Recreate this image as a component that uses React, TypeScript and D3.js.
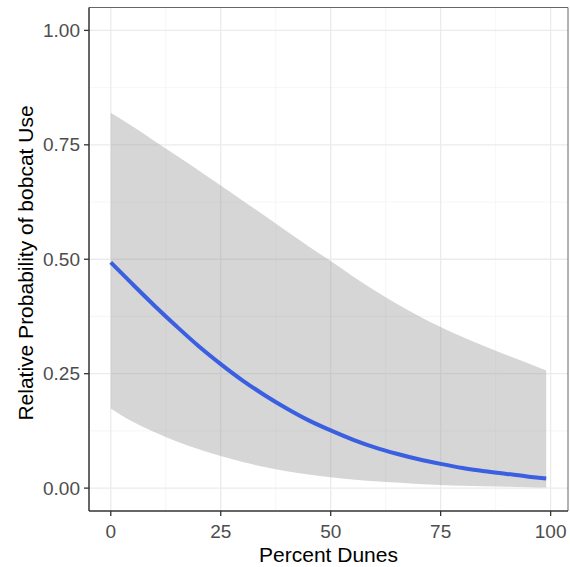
import React from "react";
import * as d3 from "d3";

const xValues = [0, 5, 10, 15, 20, 25, 30, 35, 40, 45, 50, 55, 60, 65, 70, 75, 80, 85, 90, 95, 99];
const fitValues = [0.493, 0.445, 0.398, 0.353, 0.31, 0.271, 0.235, 0.203, 0.174, 0.148, 0.126, 0.106, 0.089, 0.075, 0.063, 0.053, 0.044, 0.037, 0.031, 0.025, 0.021];
const lowerValues = [0.174, 0.145, 0.122, 0.102, 0.085, 0.07, 0.057, 0.046, 0.037, 0.03, 0.024, 0.019, 0.015, 0.012, 0.009, 0.007, 0.005, 0.004, 0.003, 0.002, 0.0015];
const upperValues = [0.82, 0.79, 0.758, 0.726, 0.694, 0.661, 0.628, 0.595, 0.561, 0.528, 0.496, 0.463, 0.432, 0.403, 0.376, 0.352, 0.33, 0.31, 0.291, 0.272, 0.257];
const xTicks = [0, 25, 50, 75, 100];
const xMinor = [12.5, 37.5, 62.5, 87.5];
const yTicks = [0, 0.25, 0.5, 0.75, 1];
const yMinor = [0.125, 0.375, 0.625, 0.875];
const xTitle = "Percent Dunes";
const yTitle = "Relative Probability of bobcat Use";

const W = 570;
const H = 567;
const L = 89, R = 568, T = 7.5, B = 511;

export default function App() {
  const x = d3.scaleLinear().domain([-4.95, 103.95]).range([L, R]);
  const y = d3.scaleLinear().domain([-0.05, 1.05]).range([B, T]);
  const rows = xValues.map((v, i) => ({ x: v, fit: fitValues[i], lo: lowerValues[i], hi: upperValues[i] }));
  const area = d3.area<any>().x(d => x(d.x)).y0(d => y(d.lo)).y1(d => y(d.hi)).curve(d3.curveMonotoneX);
  const line = d3.line<any>().x(d => x(d.x)).y(d => y(d.fit)).curve(d3.curveMonotoneX);
  const font = "Arial, 'Liberation Sans', sans-serif";
  return (
    <svg width={W} height={H} style={{ position: "absolute", left: 0, top: 0, background: "#fff" }} fontFamily={font}>
      <rect x={0} y={0} width={W} height={H} fill="#fff" />
      {xMinor.map(v => <line key={"xm" + v} x1={x(v)} x2={x(v)} y1={T} y2={B} stroke="#f2f2f2" strokeWidth={0.7} />)}
      {yMinor.map(v => <line key={"ym" + v} x1={L} x2={R} y1={y(v)} y2={y(v)} stroke="#f2f2f2" strokeWidth={0.7} />)}
      {xTicks.map(v => <line key={"xg" + v} x1={x(v)} x2={x(v)} y1={T} y2={B} stroke="#ebebeb" strokeWidth={1.3} />)}
      {yTicks.map(v => <line key={"yg" + v} x1={L} x2={R} y1={y(v)} y2={y(v)} stroke="#ebebeb" strokeWidth={1.3} />)}
      <path d={area(rows) || ""} fill="#999999" fillOpacity={0.4} />
      <path d={line(rows) || ""} fill="none" stroke="#3a5fe0" strokeWidth={4} />
      <line x1={L} x2={R} y1={T} y2={T} stroke="#666" strokeWidth={1} />
      <line x1={R} x2={R} y1={T} y2={B} stroke="#666" strokeWidth={1} />
      <line x1={L} x2={L} y1={T} y2={B} stroke="#333" strokeWidth={1.5} />
      <line x1={L} x2={R} y1={B} y2={B} stroke="#333" strokeWidth={1.5} />
      {yTicks.map(v => (
        <g key={"yt" + v}>
          <line x1={L - 5} x2={L} y1={y(v)} y2={y(v)} stroke="#333" strokeWidth={1.3} />
          <text x={L - 9} y={y(v)} dy="0.35em" textAnchor="end" fontSize={19} fill="#4d4d4d">{v.toFixed(2)}</text>
        </g>
      ))}
      {xTicks.map(v => (
        <g key={"xt" + v}>
          <line x1={x(v)} x2={x(v)} y1={B} y2={B + 5} stroke="#333" strokeWidth={1.3} />
          <text x={x(v)} y={B + 27} textAnchor="middle" fontSize={19} fill="#4d4d4d">{v}</text>
        </g>
      ))}
      <text x={(L + R) / 2} y={562} textAnchor="middle" fontSize={21} fill="#000">{xTitle}</text>
      <text transform={`translate(33,263) rotate(-90)`} textAnchor="middle" fontSize={21} fill="#000">{yTitle}</text>
    </svg>
  );
}
